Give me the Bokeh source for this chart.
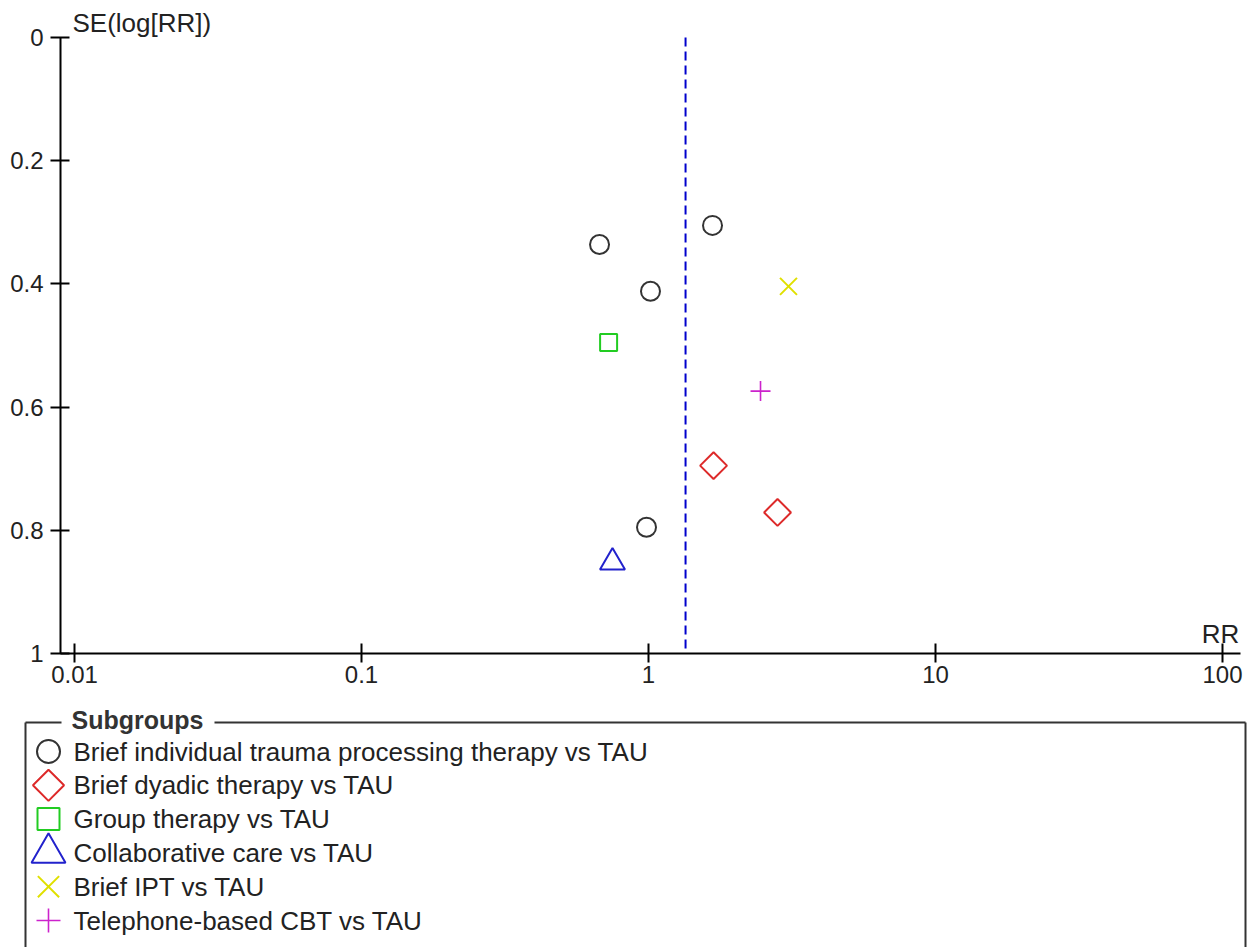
import numpy as np
from bokeh.plotting import figure
from bokeh.models import (Range1d, FixedTicker, CustomJSTickFormatter, ColumnDataSource,
                          LinearScale)
from bokeh.core.properties import value
from bokeh.embed import file_html
from bokeh.resources import INLINE

# ---------------- data ----------------
groups = [
    "Brief individual trauma processing therapy vs TAU",
    "Brief dyadic therapy vs TAU",
    "Group therapy vs TAU",
    "Collaborative care vs TAU",
    "Brief IPT vs TAU",
    "Telephone-based CBT vs TAU",
]
trauma_rr = [0.675, 1.671, 1.016, 0.984]
trauma_se = [0.336, 0.305, 0.412, 0.795]
dyadic_rr = [1.685, 2.815]
dyadic_se = [0.695, 0.771]
group_rr = [0.726]
group_se = [0.495]
collab_rr = [0.749]
collab_se = [0.852]
ipt_rr = [3.074]
ipt_se = [0.404]
tel_rr = [2.456]
tel_se = [0.574]
pooled_rr = 1.346

series_rr = [trauma_rr, dyadic_rr, group_rr, collab_rr, ipt_rr, tel_rr]
series_se = [trauma_se, dyadic_se, group_se, collab_se, ipt_se, tel_se]

x_ticks = [0.01, 0.1, 1, 10, 100]
y_ticks = [0, 0.2, 0.4, 0.6, 0.8, 1]
x_title = "RR"
y_title = "SE(log[RR])"
legend_title = "Subgroups"

# ---------------- layout / style ----------------
W, H = 1252, 947
AX_L, AX_R, AX_T, AX_B = 60, 1240, 37, 653       # pixel box of the axes
X_LO, X_HI = 0.008938, 115.5                      # axis bounds (RR)
Y_LO, Y_HI = 0.0, 1.0                             # axis bounds (SE)

dec_px = (AX_R - AX_L) / (np.log10(X_HI) - np.log10(X_LO))
x_start = 10 ** (np.log10(X_LO) - AX_L / dec_px)
x_end = 10 ** (np.log10(X_HI) + (W - AX_R) / dec_px)
unit_px = (AX_B - AX_T) / (Y_HI - Y_LO)
y_top = Y_LO - AX_T / unit_px
y_bot = Y_HI + (H - AX_B) / unit_px

FONT = "Liberation Sans"
TXT = "#222222"
markers = ["circle", "square", "square", "triangle", "x", "cross"]
angles = [0, np.pi / 4, 0, 0, 0, 0]
colors = ["#333333", "#dd2a2a", "#22cc22", "#2222cc", "#e0e000", "#cc22cc"]
plot_sizes = [19, 19, 17, 25, 24, 20]
leg_sizes = [23, 22, 22, 34, 30, 24]
widths = [2, 2, 2, 2, 2, 1.6]

p = figure(width=W, height=H, x_axis_type="log",
           x_range=Range1d(x_start, x_end), y_range=Range1d(y_bot, y_top),
           min_border=0, toolbar_location=None, output_backend="svg")
p.grid.visible = False
p.outline_line_color = None
p.background_fill_color = "white"
p.border_fill_color = "white"
p.extra_x_ranges = {"px": Range1d(0, W)}
p.extra_x_scales = {"px": LinearScale()}
p.extra_y_ranges = {"py": Range1d(H, 0)}
p.extra_y_scales = {"py": LinearScale()}

p.xaxis.ticker = FixedTicker(ticks=x_ticks, minor_ticks=[])
p.xaxis.formatter = CustomJSTickFormatter(code="return String(Math.round(tick*1000)/1000);")
p.yaxis.ticker = FixedTicker(ticks=y_ticks, minor_ticks=[])
p.yaxis.formatter = CustomJSTickFormatter(code="return String(Math.round(tick*10)/10);")
p.xaxis.fixed_location = Y_HI
p.yaxis.fixed_location = X_LO
p.xaxis.bounds = (X_LO, X_HI)
p.yaxis.bounds = (Y_LO, Y_HI)

for ax in (p.xaxis[0], p.yaxis[0]):
    ax.axis_line_color = "black"
    ax.axis_line_width = 2
    ax.major_tick_line_color = "black"
    ax.major_tick_line_width = 2
    ax.minor_tick_line_color = None
    ax.major_label_text_font = FONT
    ax.major_label_text_font_size = "24px"
    ax.major_label_text_color = TXT
p.xaxis.major_tick_in = 10
p.xaxis.major_tick_out = 9
p.xaxis.major_label_standoff = 3
p.yaxis.major_tick_in = 9
p.yaxis.major_tick_out = 10
p.yaxis.major_label_standoff = 7

# pooled estimate (dashed vertical line)
p.line([pooled_rr, pooled_rr], [Y_LO, Y_HI], line_color="#0000cc",
       line_dash="9 5", line_width=2)

for rr, se, m, a, c, s, w in zip(series_rr, series_se, markers, angles, colors,
                                 plot_sizes, widths):
    p.scatter(rr, se, marker=m, angle=a, size=s, line_color=c, fill_color=None,
              line_width=w)

# axis titles (pixel coordinates)
p.text(x=[72], y=[22], text=[y_title], x_range_name="px", y_range_name="py",
       text_font=value(FONT), text_font_size="26px", text_color=TXT,
       text_baseline="middle")
p.text(x=[1220], y=[633], text=[x_title], x_range_name="px", y_range_name="py",
       text_font=value(FONT), text_font_size="26px", text_color=TXT,
       text_align="center", text_baseline="middle")

# ---------------- legend box ----------------
BOX_T = 722
row_y = [751 + 33.8 * i for i in range(len(groups))]
src = ColumnDataSource(dict(x=[48] * len(groups), y=row_y, marker=markers, angle=angles,
                            size=leg_sizes, color=colors, width=widths,
                            tx=[73] * len(groups), label=groups))
p.segment(x0=[25, 214, 25, 1245], y0=[BOX_T] * 4,
          x1=[61, 1245, 25, 1245], y1=[BOX_T, BOX_T, H + 5, H + 5],
          x_range_name="px", y_range_name="py",
          line_color="#333333", line_width=2)
p.scatter("x", "y", source=src, marker="marker", angle="angle", size="size",
          line_color="color", fill_color=None, line_width="width",
          x_range_name="px", y_range_name="py")
p.text("tx", "y", text="label", source=src, text_font=value(FONT),
       text_font_size="26px", text_color=TXT, text_baseline="middle",
       x_range_name="px", y_range_name="py")
p.text(x=[71], y=[719], text=[legend_title], text_font=value(FONT),
       text_font_size="25px", text_font_style="bold", text_color="#333333",
       text_baseline="middle", x_range_name="px", y_range_name="py")

open("out.html", "w").write(file_html(p, INLINE))
